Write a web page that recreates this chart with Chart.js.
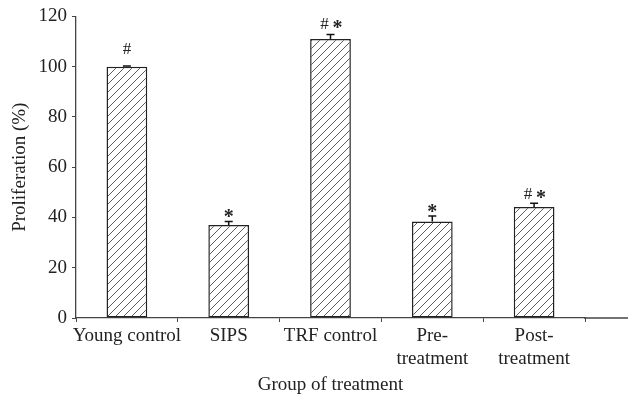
<!DOCTYPE html>
<html>
<head>
<meta charset="utf-8">
<script src="https://cdn.jsdelivr.net/npm/chart.js@4"></script>
<style>
html,body{margin:0;padding:0;background:#fff;}
#wrap{width:628px;height:402px;}
</style>
</head>
<body>
<div id="wrap"><canvas id="c" width="628" height="402"></canvas></div>
<script>
const categories = ["Young control", "SIPS", "TRF control", ["Pre-", "treatment"], ["Post-", "treatment"]];
const proliferation = [100, 37.0, 111, 38.4, 44.2];
const errors = [0.3, 1.4, 1.8, 2.2, 1.5];
const marks = ["#", "*", "#*", "*", "#*"];
const yTicks = [0, 20, 40, 60, 80, 100, 120];

const FONT = "'Liberation Serif', 'DejaVu Serif', serif";
const markGap = [12, 3, 5, 3, 4];

function hatch() {
  const s = 8;
  const cv = document.createElement('canvas');
  cv.width = s; cv.height = s;
  const g = cv.getContext('2d');
  g.fillStyle = '#fff';
  g.fillRect(0, 0, s, s);
  g.strokeStyle = '#333';
  g.lineWidth = 0.8;
  g.beginPath();
  g.moveTo(-1, s + 1); g.lineTo(s + 1, -1);
  g.moveTo(-1, 1); g.lineTo(1, -1);
  g.moveTo(s - 1, s + 1); g.lineTo(s + 1, s - 1);
  g.stroke();
  return g.createPattern(cv, 'repeat');
}

const extras = {
  id: 'extras',
  afterDatasetsDraw(chart) {
    const ctx = chart.ctx;
    const y = chart.scales.y;
    const meta = chart.getDatasetMeta(0);
    ctx.save();
    ctx.strokeStyle = '#444';
    ctx.lineWidth = 1.3;
    ctx.beginPath();
    ctx.moveTo(chart.chartArea.right - 1, y.getPixelForValue(0));
    ctx.lineTo(chart.width, y.getPixelForValue(0));
    ctx.stroke();
    ctx.strokeStyle = '#111';
    ctx.lineWidth = 1.5;
    proliferation.forEach((v, i) => {
      const cx = meta.data[i].x;
      const top = y.getPixelForValue(v);
      const cap = y.getPixelForValue(v + errors[i]);
      ctx.beginPath();
      ctx.moveTo(cx, top); ctx.lineTo(cx, cap);
      ctx.moveTo(cx - 4, cap); ctx.lineTo(cx + 4, cap);
      ctx.stroke();
      ctx.fillStyle = '#222';
      ctx.textAlign = 'center';
      ctx.textBaseline = 'alphabetic';
      const m = marks[i];
      const base = cap - markGap[i];
      if (m.length === 1) {
        drawMark(ctx, m, cx, base);
      } else {
        drawMark(ctx, m[0], cx - 6, base);
        drawMark(ctx, m[1], cx + 7, base);
      }
    });
    ctx.restore();
  }
};

function drawMark(ctx, ch, x, base) {
  if (ch === '*') {
    ctx.font = 'bold 20px ' + FONT;
    ctx.fillText('*', x, base + 5);
  } else {
    ctx.font = '17px ' + FONT;
    ctx.fillText(ch, x, base);
  }
}

new Chart(document.getElementById('c'), {
  type: 'bar',
  data: {
    labels: categories,
    datasets: [{
      data: proliferation,
      backgroundColor: hatch(),
      borderColor: '#222',
      borderWidth: 1.5,
      borderSkipped: false,
      barPercentage: 0.4,
      categoryPercentage: 1.0
    }]
  },
  options: {
    responsive: false,
    animation: false,
    events: [],
    layout: { padding: { top: 16, right: 43, left: 0, bottom: 0 } },
    plugins: { legend: { display: false }, tooltip: { enabled: false } },
    scales: {
      x: {
        grid: { display: true, drawOnChartArea: false, drawTicks: true, tickLength: 4, color: '#444', offset: true },
        border: { display: true, color: '#444', width: 1.3 },
        ticks: { color: '#222', font: { family: FONT, size: 19 }, padding: 3, maxRotation: 0, autoSkip: false },
        title: { display: true, text: 'Group of treatment', color: '#222', font: { family: FONT, size: 19 }, padding: { top: 2, bottom: 6 } },
        afterFit(s) { s.height = 84; }
      },
      y: {
        min: 0, max: 120,
        afterBuildTicks(s) { s.ticks = yTicks.map(v => ({ value: v })); },
        grid: { display: true, drawOnChartArea: false, drawTicks: true, tickLength: 4, color: '#444' },
        border: { display: true, color: '#444', width: 1.3 },
        ticks: { color: '#222', font: { family: FONT, size: 19 }, padding: 5 },
        title: { display: true, text: 'Proliferation (%)', color: '#222', font: { family: FONT, size: 19 }, padding: { top: 9, bottom: 4 } },
        afterFit(s) { s.width = 76; }
      }
    }
  },
  plugins: [extras]
});
</script>
</body>
</html>
